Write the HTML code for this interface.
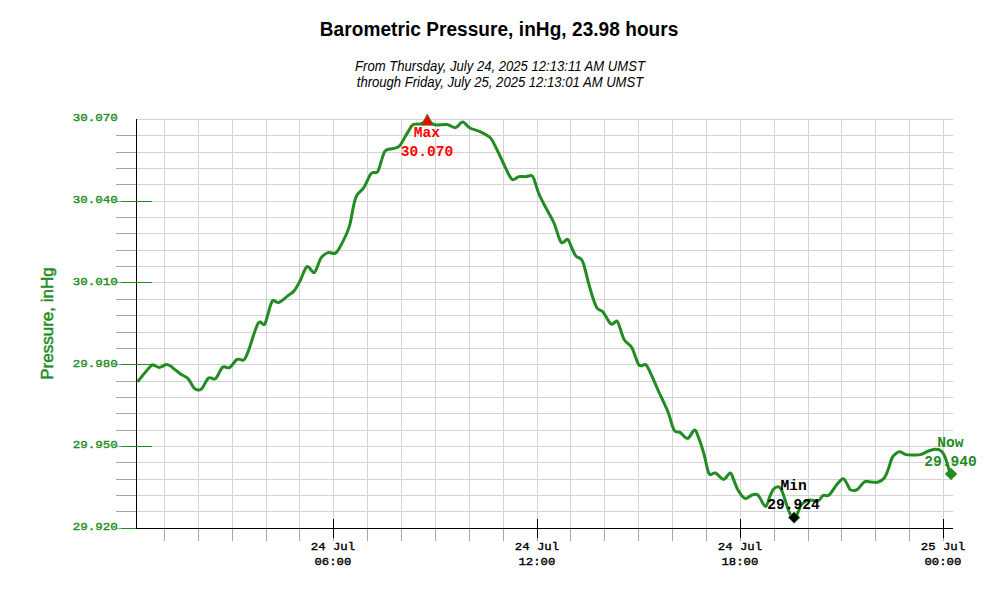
<!DOCTYPE html>
<html><head><meta charset="utf-8"><title>Barometric Pressure</title>
<style>
html,body{margin:0;padding:0;background:#fff;}
svg{display:block;}
text{font-family:"Liberation Mono",monospace;}
.ax{font-size:12.5px;fill:#000;stroke:#000;stroke-width:0.4px;}
.mk{font-size:14.6px;font-weight:bold;stroke:none;}
.g{fill:#228b22;}
.ax.g,.yl.g{stroke:#228b22;}
.t{font-family:"Liberation Sans",sans-serif;font-size:19.05px;letter-spacing:0.05px;font-weight:bold;fill:#000;}
.s{font-family:"Liberation Sans",sans-serif;font-size:13.1px;font-style:italic;fill:#000;}
.yl{font-family:"Liberation Sans",sans-serif;font-size:17px;stroke-width:0.5px;}
</style></head><body>
<svg width="1000" height="600" viewBox="0 0 1000 600">
<rect width="1000" height="600" fill="#fff"/>
<rect x="137" y="119" width="816" height="1" fill="#d3d3d3"/>
<rect x="137" y="135" width="816" height="1" fill="#d3d3d3"/>
<rect x="137" y="152" width="816" height="1" fill="#d3d3d3"/>
<rect x="137" y="168" width="816" height="1" fill="#d3d3d3"/>
<rect x="137" y="184" width="816" height="1" fill="#d3d3d3"/>
<rect x="137" y="201" width="816" height="1" fill="#d3d3d3"/>
<rect x="137" y="217" width="816" height="1" fill="#d3d3d3"/>
<rect x="137" y="233" width="816" height="1" fill="#d3d3d3"/>
<rect x="137" y="250" width="816" height="1" fill="#d3d3d3"/>
<rect x="137" y="266" width="816" height="1" fill="#d3d3d3"/>
<rect x="137" y="282" width="816" height="1" fill="#d3d3d3"/>
<rect x="137" y="299" width="816" height="1" fill="#d3d3d3"/>
<rect x="137" y="315" width="816" height="1" fill="#d3d3d3"/>
<rect x="137" y="332" width="816" height="1" fill="#d3d3d3"/>
<rect x="137" y="348" width="816" height="1" fill="#d3d3d3"/>
<rect x="137" y="364" width="816" height="1" fill="#d3d3d3"/>
<rect x="137" y="381" width="816" height="1" fill="#d3d3d3"/>
<rect x="137" y="397" width="816" height="1" fill="#d3d3d3"/>
<rect x="137" y="413" width="816" height="1" fill="#d3d3d3"/>
<rect x="137" y="430" width="816" height="1" fill="#d3d3d3"/>
<rect x="137" y="446" width="816" height="1" fill="#d3d3d3"/>
<rect x="137" y="462" width="816" height="1" fill="#d3d3d3"/>
<rect x="137" y="479" width="816" height="1" fill="#d3d3d3"/>
<rect x="137" y="495" width="816" height="1" fill="#d3d3d3"/>
<rect x="137" y="511" width="816" height="1" fill="#d3d3d3"/>
<rect x="164" y="119" width="1" height="409" fill="#d3d3d3"/>
<rect x="198" y="119" width="1" height="409" fill="#d3d3d3"/>
<rect x="232" y="119" width="1" height="409" fill="#d3d3d3"/>
<rect x="266" y="119" width="1" height="409" fill="#d3d3d3"/>
<rect x="299" y="119" width="1" height="409" fill="#d3d3d3"/>
<rect x="333" y="119" width="1" height="409" fill="#d3d3d3"/>
<rect x="367" y="119" width="1" height="409" fill="#d3d3d3"/>
<rect x="401" y="119" width="1" height="409" fill="#d3d3d3"/>
<rect x="435" y="119" width="1" height="409" fill="#d3d3d3"/>
<rect x="469" y="119" width="1" height="409" fill="#d3d3d3"/>
<rect x="503" y="119" width="1" height="409" fill="#d3d3d3"/>
<rect x="537" y="119" width="1" height="409" fill="#d3d3d3"/>
<rect x="570" y="119" width="1" height="409" fill="#d3d3d3"/>
<rect x="604" y="119" width="1" height="409" fill="#d3d3d3"/>
<rect x="638" y="119" width="1" height="409" fill="#d3d3d3"/>
<rect x="672" y="119" width="1" height="409" fill="#d3d3d3"/>
<rect x="706" y="119" width="1" height="409" fill="#d3d3d3"/>
<rect x="740" y="119" width="1" height="409" fill="#d3d3d3"/>
<rect x="774" y="119" width="1" height="409" fill="#d3d3d3"/>
<rect x="808" y="119" width="1" height="409" fill="#d3d3d3"/>
<rect x="841" y="119" width="1" height="409" fill="#d3d3d3"/>
<rect x="875" y="119" width="1" height="409" fill="#d3d3d3"/>
<rect x="909" y="119" width="1" height="409" fill="#d3d3d3"/>
<rect x="943" y="119" width="1" height="409" fill="#d3d3d3"/>
<rect x="116" y="135" width="20" height="1" fill="#a6a6a6"/>
<rect x="116" y="152" width="20" height="1" fill="#a6a6a6"/>
<rect x="116" y="168" width="20" height="1" fill="#a6a6a6"/>
<rect x="116" y="184" width="20" height="1" fill="#a6a6a6"/>
<rect x="116" y="201" width="20" height="1" fill="#a6a6a6"/>
<rect x="116" y="217" width="20" height="1" fill="#a6a6a6"/>
<rect x="116" y="233" width="20" height="1" fill="#a6a6a6"/>
<rect x="116" y="250" width="20" height="1" fill="#a6a6a6"/>
<rect x="116" y="266" width="20" height="1" fill="#a6a6a6"/>
<rect x="116" y="282" width="20" height="1" fill="#a6a6a6"/>
<rect x="116" y="299" width="20" height="1" fill="#a6a6a6"/>
<rect x="116" y="315" width="20" height="1" fill="#a6a6a6"/>
<rect x="116" y="332" width="20" height="1" fill="#a6a6a6"/>
<rect x="116" y="348" width="20" height="1" fill="#a6a6a6"/>
<rect x="116" y="364" width="20" height="1" fill="#a6a6a6"/>
<rect x="116" y="381" width="20" height="1" fill="#a6a6a6"/>
<rect x="116" y="397" width="20" height="1" fill="#a6a6a6"/>
<rect x="116" y="413" width="20" height="1" fill="#a6a6a6"/>
<rect x="116" y="430" width="20" height="1" fill="#a6a6a6"/>
<rect x="116" y="446" width="20" height="1" fill="#a6a6a6"/>
<rect x="116" y="462" width="20" height="1" fill="#a6a6a6"/>
<rect x="116" y="479" width="20" height="1" fill="#a6a6a6"/>
<rect x="116" y="495" width="20" height="1" fill="#a6a6a6"/>
<rect x="116" y="511" width="20" height="1" fill="#a6a6a6"/>
<rect x="116" y="528" width="20" height="1" fill="#a6a6a6"/>
<rect x="164" y="528" width="1" height="13" fill="#a6a6a6"/>
<rect x="198" y="528" width="1" height="13" fill="#a6a6a6"/>
<rect x="232" y="528" width="1" height="13" fill="#a6a6a6"/>
<rect x="266" y="528" width="1" height="13" fill="#a6a6a6"/>
<rect x="299" y="528" width="1" height="13" fill="#a6a6a6"/>
<rect x="333" y="528" width="1" height="13" fill="#a6a6a6"/>
<rect x="367" y="528" width="1" height="13" fill="#a6a6a6"/>
<rect x="401" y="528" width="1" height="13" fill="#a6a6a6"/>
<rect x="435" y="528" width="1" height="13" fill="#a6a6a6"/>
<rect x="469" y="528" width="1" height="13" fill="#a6a6a6"/>
<rect x="503" y="528" width="1" height="13" fill="#a6a6a6"/>
<rect x="537" y="528" width="1" height="13" fill="#a6a6a6"/>
<rect x="570" y="528" width="1" height="13" fill="#a6a6a6"/>
<rect x="604" y="528" width="1" height="13" fill="#a6a6a6"/>
<rect x="638" y="528" width="1" height="13" fill="#a6a6a6"/>
<rect x="672" y="528" width="1" height="13" fill="#a6a6a6"/>
<rect x="706" y="528" width="1" height="13" fill="#a6a6a6"/>
<rect x="740" y="528" width="1" height="13" fill="#a6a6a6"/>
<rect x="774" y="528" width="1" height="13" fill="#a6a6a6"/>
<rect x="808" y="528" width="1" height="13" fill="#a6a6a6"/>
<rect x="841" y="528" width="1" height="13" fill="#a6a6a6"/>
<rect x="875" y="528" width="1" height="13" fill="#a6a6a6"/>
<rect x="909" y="528" width="1" height="13" fill="#a6a6a6"/>
<rect x="943" y="528" width="1" height="13" fill="#a6a6a6"/>
<rect x="136" y="119" width="1" height="410" fill="#000"/>
<rect x="136" y="528" width="817" height="1" fill="#000"/>
<rect x="121" y="201" width="31" height="1" fill="#228b22"/>
<rect x="121" y="282" width="31" height="1" fill="#228b22"/>
<rect x="121" y="364" width="31" height="1" fill="#228b22"/>
<rect x="121" y="446" width="31" height="1" fill="#228b22"/>
<rect x="121" y="528" width="15" height="1" fill="#228b22"/>
<rect x="333" y="519" width="1" height="19" fill="#000"/>
<rect x="537" y="519" width="1" height="19" fill="#000"/>
<rect x="740" y="519" width="1" height="19" fill="#000"/>
<rect x="943" y="519" width="1" height="19" fill="#000"/>
<text class="ax g" transform="translate(117.8,121.0) scale(1,0.92)" text-anchor="end">30.070</text>
<text class="ax g" transform="translate(117.8,203.2) scale(1,0.92)" text-anchor="end">30.040</text>
<text class="ax g" transform="translate(117.8,285.2) scale(1,0.92)" text-anchor="end">30.010</text>
<text class="ax g" transform="translate(117.8,367.0) scale(1,0.92)" text-anchor="end">29.980</text>
<text class="ax g" transform="translate(117.8,448.2) scale(1,0.92)" text-anchor="end">29.950</text>
<text class="ax g" transform="translate(117.8,530.2) scale(1,0.92)" text-anchor="end">29.920</text>
<text class="ax" transform="translate(332.9,549.9) scale(1,0.9)" style="font-size:12.3px" text-anchor="middle">24 Jul</text>
<text class="ax" transform="translate(332.9,564.6) scale(1,0.93)" style="font-size:12.3px" text-anchor="middle">06:00</text>
<text class="ax" transform="translate(536.9,549.9) scale(1,0.9)" style="font-size:12.3px" text-anchor="middle">24 Jul</text>
<text class="ax" transform="translate(536.9,564.6) scale(1,0.93)" style="font-size:12.3px" text-anchor="middle">12:00</text>
<text class="ax" transform="translate(739.9,549.9) scale(1,0.9)" style="font-size:12.3px" text-anchor="middle">24 Jul</text>
<text class="ax" transform="translate(739.9,564.6) scale(1,0.93)" style="font-size:12.3px" text-anchor="middle">18:00</text>
<text class="ax" transform="translate(942.9,549.9) scale(1,0.9)" style="font-size:12.3px" text-anchor="middle">25 Jul</text>
<text class="ax" transform="translate(942.9,564.6) scale(1,0.93)" style="font-size:12.3px" text-anchor="middle">00:00</text>
<path d="M137.6 381.8C138.8 380.3 142.7 375.3 145.0 372.6C147.3 369.9 150.0 366.8 151.4 365.5C152.8 364.2 151.9 364.7 153.2 365.0C154.5 365.3 157.4 367.2 159.0 367.4C160.6 367.6 161.8 366.5 163.0 366.0C164.2 365.5 165.2 364.6 166.4 364.6C167.7 364.6 169.1 365.2 170.5 366.0C171.9 366.8 173.3 368.3 175.0 369.6C176.7 370.9 178.3 372.5 180.5 374.0C182.7 375.5 185.8 376.3 188.0 378.6C190.2 380.9 192.3 386.1 194.0 388.0C195.7 389.9 196.7 389.9 198.0 390.0C199.3 390.1 200.2 390.6 202.0 388.6C203.8 386.6 206.3 379.7 208.6 378.0C210.9 376.3 213.3 380.4 215.6 378.6C217.9 376.8 220.3 369.0 222.6 367.2C224.9 365.4 227.2 368.9 229.6 367.6C232.0 366.3 234.7 360.7 237.0 359.4C239.3 358.1 241.8 361.2 243.6 360.0C245.4 358.8 245.6 358.1 248.0 352.0C250.4 345.9 255.3 328.2 258.0 323.6C260.7 319.0 262.7 326.0 264.4 324.4C266.1 322.8 266.7 317.9 268.0 314.0C269.3 310.1 270.6 302.9 272.4 301.0C274.2 299.1 276.4 303.3 279.0 302.4C281.6 301.5 285.5 297.5 288.0 295.6C290.5 293.7 292.0 293.4 294.0 291.0C296.0 288.6 297.8 285.1 300.0 281.0C302.2 276.9 304.6 268.0 307.0 266.6C309.4 265.2 312.1 273.8 314.4 272.4C316.7 271.0 318.7 261.3 321.0 258.0C323.3 254.7 325.7 253.4 328.0 252.6C330.3 251.8 333.0 254.3 335.0 253.4C337.0 252.5 338.2 250.1 340.0 247.0C341.8 243.9 344.3 238.8 346.0 235.0C347.7 231.2 348.7 229.2 350.0 224.0C351.3 218.8 352.8 208.8 354.0 204.0C355.2 199.2 355.3 197.8 357.0 195.0C358.7 192.2 361.7 191.0 364.0 187.4C366.3 183.8 368.8 176.2 371.0 173.6C373.2 171.0 375.7 173.9 377.4 172.0C379.1 170.1 379.9 165.2 381.0 162.0C382.1 158.8 383.1 154.8 384.0 152.8C384.9 150.8 385.3 150.7 386.3 150.1C387.3 149.5 388.5 149.3 390.0 149.0C391.5 148.7 393.8 148.5 395.3 148.1C396.8 147.7 397.9 147.2 399.0 146.4C400.1 145.6 400.6 144.6 401.6 143.0C402.6 141.4 403.8 139.1 405.0 137.0C406.2 134.9 407.7 132.4 408.8 130.6C409.9 128.8 410.8 127.0 411.6 126.0C412.4 125.0 412.8 124.7 413.6 124.4C414.4 124.1 415.2 124.1 416.3 124.1C417.4 124.0 419.0 124.2 420.0 124.1C421.0 123.9 421.7 123.6 422.5 123.2C423.3 122.8 424.0 122.2 424.8 121.5C425.6 120.8 426.3 118.8 427.3 119.0C428.3 119.2 429.6 121.8 431.0 122.8C432.4 123.8 433.3 124.7 436.0 125.0C438.7 125.3 443.7 124.2 447.0 124.6C450.3 125.0 453.0 128.0 455.6 127.6C458.2 127.2 460.2 121.9 462.6 122.0C465.0 122.1 467.1 126.4 470.0 128.0C472.9 129.6 477.0 130.3 480.0 131.6C483.0 132.9 486.0 134.6 488.0 136.0C490.0 137.4 490.0 136.7 492.0 140.0C494.0 143.3 497.3 150.5 500.0 156.0C502.7 161.5 505.9 169.1 508.0 173.0C510.1 176.9 510.8 179.0 512.6 179.6C514.4 180.2 516.8 177.1 519.0 176.6C521.2 176.1 523.9 176.8 526.0 176.6C528.1 176.4 530.3 175.2 531.6 175.6C532.9 176.0 532.8 175.9 534.0 179.0C535.2 182.1 537.0 189.2 539.0 194.0C541.0 198.8 543.5 203.2 546.0 208.0C548.5 212.8 551.5 217.3 554.0 223.0C556.5 228.7 558.7 239.3 561.0 242.0C563.3 244.7 565.9 238.7 567.6 239.4C569.3 240.1 569.7 243.3 571.0 246.0C572.3 248.7 573.9 253.4 575.6 255.6C577.3 257.8 579.7 257.6 581.0 259.0C582.3 260.4 582.4 260.3 583.6 264.0C584.8 267.7 586.6 275.8 588.0 281.0C589.4 286.2 590.5 290.5 592.0 295.0C593.5 299.5 595.2 305.2 597.0 308.0C598.8 310.8 600.7 309.3 603.0 312.0C605.3 314.7 608.7 322.5 611.0 324.0C613.3 325.5 615.5 320.3 617.0 321.0C618.5 321.7 618.8 324.8 620.0 328.0C621.2 331.2 622.4 336.7 624.4 340.0C626.4 343.3 629.6 343.8 632.0 348.0C634.4 352.2 636.7 362.2 639.0 365.0C641.3 367.8 643.8 363.4 645.6 364.6C647.4 365.8 647.9 367.8 650.0 372.0C652.1 376.2 655.0 383.3 658.0 390.0C661.0 396.7 665.3 405.3 668.0 412.0C670.7 418.7 672.0 426.6 674.0 430.0C676.0 433.4 677.7 431.0 680.0 432.4C682.3 433.8 685.2 438.8 687.6 438.4C690.0 438.0 692.7 430.4 694.4 430.0C696.1 429.6 696.4 432.0 698.0 436.0C699.6 440.0 702.2 447.7 704.0 454.0C705.8 460.3 707.1 470.4 709.0 473.6C710.9 476.8 713.2 472.0 715.6 473.0C718.0 474.0 721.2 479.4 723.6 479.4C726.0 479.4 728.4 473.2 730.0 473.0C731.6 472.8 731.7 475.2 733.0 478.0C734.3 480.8 736.0 486.6 738.0 490.0C740.0 493.4 742.7 497.6 745.0 498.4C747.3 499.2 750.0 495.6 752.0 495.0C754.0 494.4 755.7 494.0 757.0 494.5C758.3 495.0 758.6 496.0 760.0 498.0C761.4 500.0 764.0 506.9 765.6 506.6C767.2 506.4 768.5 499.4 769.8 496.5C771.1 493.6 772.1 490.6 773.6 489.0C775.1 487.4 777.5 486.5 779.0 487.0C780.5 487.5 780.9 488.3 782.4 492.0C783.9 495.7 786.5 504.9 788.0 509.0C789.5 513.1 790.5 514.7 791.5 516.5C792.5 518.3 793.2 519.6 794.0 519.6C794.8 519.6 795.5 517.9 796.3 516.5C797.0 515.1 797.5 513.1 798.5 511.0C799.5 508.9 800.2 505.8 802.0 504.0C803.8 502.2 806.3 500.5 809.0 500.0C811.7 499.5 815.7 501.7 818.0 501.0C820.3 500.3 821.2 496.6 823.0 495.6C824.8 494.6 826.8 496.8 829.0 495.0C831.2 493.2 834.2 487.7 836.5 485.0C838.8 482.3 841.3 479.1 843.0 478.8C844.7 478.5 845.4 481.2 846.6 483.0C847.8 484.8 848.7 488.2 850.0 489.5C851.3 490.8 853.0 490.6 854.3 490.5C855.6 490.4 856.3 490.4 858.0 489.0C859.7 487.6 862.2 483.0 864.5 481.8C866.8 480.6 869.2 482.0 871.5 482.0C873.8 482.0 876.2 482.7 878.3 482.0C880.4 481.3 882.7 480.0 884.3 478.0C885.9 476.0 886.7 473.3 888.0 470.0C889.3 466.7 890.7 460.8 892.0 458.0C893.3 455.2 894.7 454.5 896.0 453.5C897.3 452.5 898.3 451.6 900.0 451.8C901.7 452.0 903.9 454.1 906.0 454.6C908.1 455.1 910.1 455.0 912.5 455.0C914.9 455.0 917.6 455.3 920.3 454.6C923.0 453.9 926.0 451.9 928.5 451.0C931.0 450.1 933.3 449.4 935.3 449.3C937.3 449.2 939.1 449.6 940.5 450.5C941.9 451.4 942.8 452.6 943.8 454.5C944.8 456.4 945.9 459.5 946.8 462.0C947.7 464.5 948.3 467.5 949.0 469.5C949.7 471.5 950.5 473.2 950.8 474.0" fill="none" stroke="#228b22" stroke-width="3" stroke-linejoin="round" stroke-linecap="butt"/>
<polygon points="427.3,114.0 421.5,125.2 433.1,125.2" fill="#f00" stroke="#228b22" stroke-width="0.8" stroke-linejoin="miter"/>
<polygon points="794.1,511.9 799.8,517.6 794.1,523.3 788.4,517.6" fill="#000" stroke="#228b22" stroke-width="0.9" stroke-linejoin="miter"/>
<polygon points="951.05,467.7 957.25,473.9 951.05,480.1 944.85,473.9" fill="#228b22"/>
<text class="mk" fill="#f00" x="427" y="137" text-anchor="middle">Max</text>
<text class="mk" fill="#f00" x="427" y="155.6" text-anchor="middle">30.070</text>
<text class="mk" fill="#000" x="793.6" y="489.6" text-anchor="middle">Min</text>
<text class="mk" fill="#000" x="793.6" y="509.1" text-anchor="middle">29.924</text>
<text class="mk g" x="950.4" y="446.8" text-anchor="middle">Now</text>
<text class="mk g" x="950.4" y="465.6" text-anchor="middle">29.940</text>
<text class="t" transform="translate(499.1,35.65) scale(1,1.015)" text-anchor="middle">Barometric Pressure, inHg, 23.98 hours</text>
<text class="s" transform="translate(500,70.8) scale(1,1.07)" text-anchor="middle">From Thursday, July 24, 2025 12:13:11 AM UMST</text>
<text class="s" transform="translate(500,86.6) scale(1,1.07)" text-anchor="middle">through Friday, July 25, 2025 12:13:01 AM UMST</text>
<text class="yl g" transform="translate(53.2,323.5) rotate(-90)" text-anchor="middle">Pressure, inHg</text>
</svg>
</body></html>
